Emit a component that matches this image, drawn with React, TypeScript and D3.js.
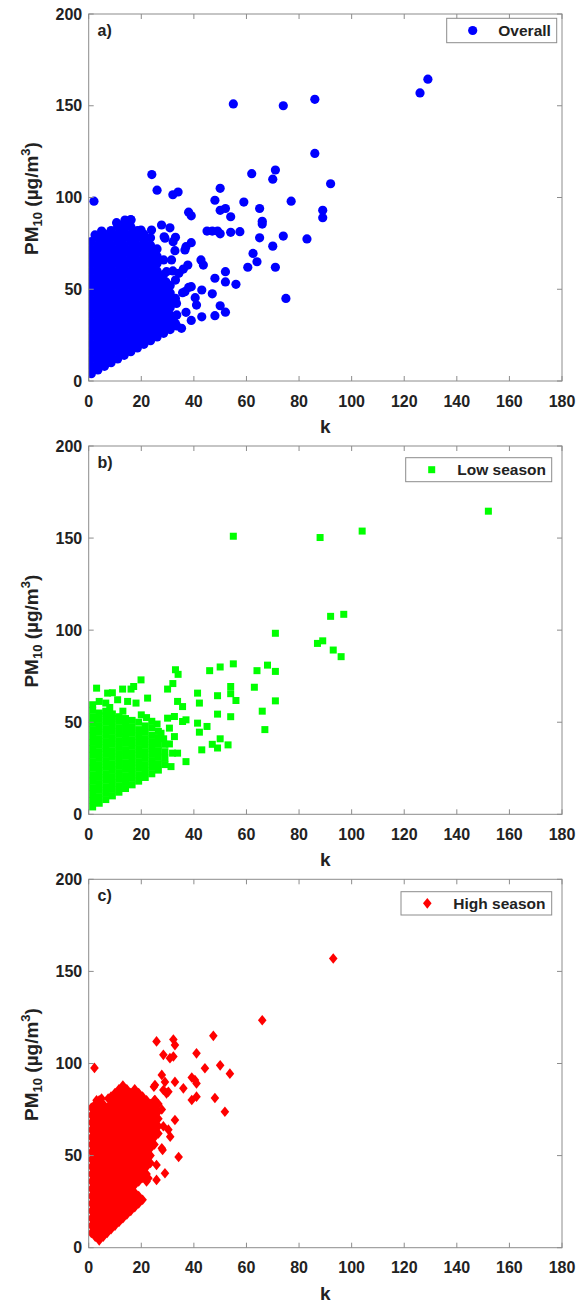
import React from 'react';
import * as d3 from 'd3';

// ---------- tick labels ----------
const kTicks = [0, 20, 40, 60, 80, 100, 120, 140, 160, 180];
const pmTicks = [0, 50, 100, 150, 200];
const panelLabels = ['a)', 'b)', 'c)'];
const legendLabels = ['Overall', 'Low season', 'High season'];

// ---------- a) Overall (dense core: k column -> PM values) ----------
const overallCore: [number, number[]][] = [
  [1, [4, 8, 12, 16, 20, 24, 28, 32, 36, 40, 44, 48, 52, 56, 60, 64, 68, 72, 76]],
  [3.5, [6, 10, 14, 18, 22, 26, 30, 34, 38, 42, 46, 50, 54, 58, 62, 66, 70, 74, 78]],
  [6, [8, 12, 16, 20, 24, 28, 32, 36, 40, 44, 48, 52, 56, 60, 64, 68, 72, 76, 80]],
  [8.5, [10, 14, 18, 22, 26, 30, 34, 38, 42, 46, 50, 54, 58, 62, 66, 70, 74, 78, 82]],
  [11, [12, 16, 20, 24, 28, 32, 36, 40, 44, 48, 52, 56, 60, 64, 68, 72, 76, 80, 84]],
  [13.5, [14, 18, 22, 26, 30, 34, 38, 42, 46, 50, 54, 58, 62, 66, 70, 74, 78, 82, 86]],
  [16, [16, 20, 24, 28, 32, 36, 40, 44, 48, 52, 56, 60, 64, 68, 72, 76, 80, 84, 88]],
  [18.5, [18, 22, 26, 30, 34, 38, 42, 46, 50, 54, 58, 62, 66, 70, 74, 78, 82]],
  [21, [20, 24, 28, 32, 36, 40, 44, 48, 52, 56, 60, 64, 68, 72, 76, 80]],
  [23.5, [22, 26, 30, 34, 38, 42, 46, 50, 54, 58, 62, 66, 70, 74, 78]],
  [26, [24, 28, 32, 36, 40, 44, 48, 52, 56, 60, 64, 68, 72]],
  [28.5, [26, 30, 34, 38, 42, 46, 50, 54, 58, 66]],
  [31, [28, 32, 36, 40, 44, 48, 52]],
  [33.5, [30, 36]],
];
const overallScatter: [number, number][] = [
  [2, 98], [24, 112.5], [26, 104], [32, 101.5], [34, 103], [55, 151], [74, 150], [38, 92], [39, 90],
  [48, 98.5], [50, 105], [50, 93], [52, 94], [54, 89.5], [59, 97.5], [62, 113], [65, 94], [66, 87],
  [66, 85.5], [70, 110], [71, 115], [77, 98], [71, 62], [70, 73.5], [74, 79], [75, 45], [65, 78],
  [62.5, 69.5], [64, 65], [60.5, 62], [54, 81], [57.5, 81.4], [45, 81.7], [47, 81.7], [49, 81.7],
  [50, 80.2], [52, 54], [56, 52.7], [48, 56], [52, 59.6], [47, 47.5], [50, 41], [52, 37.5], [48, 35.6],
  [43, 35], [39, 33], [37, 37.4], [43, 49.6], [40.5, 45.4], [41, 41.4], [38, 51], [39, 51.4], [36.6, 48.7],
  [42.7, 66], [43.6, 63.2], [39, 75.4], [37, 73.2], [37.7, 63.2], [35.3, 28.7], [129, 164.5], [126, 157],
  [86, 153.5], [86, 124], [92, 107.5], [89, 93], [89, 89], [83, 77.4],
  [10.6, 86.3], [13.8, 87.7], [16.1, 87.7], [2.4, 79.6], [4.9, 81.7], [19.9, 82.3], [23.9, 82.3],
  [27.7, 85], [28.7, 78.6], [30.9, 83.5], [32.1, 75.9], [32.8, 71], [31.5, 66], [32, 60], [29.6, 59.6],
  [29.4, 54], [33, 55], [34.3, 58.7], [36, 61], [35.7, 48.1], [33, 45], [33.4, 42.3], [32.5, 35],
  [33, 31.4], [27, 39.6], [36.6, 71.4], [29, 77.8], [33, 78.3],
];

// ---------- b) Low season ----------
const lowCore: [number, number[]][] = [
  [1.5, [4, 7.5, 11, 14.5, 18, 21.5, 25, 28.5, 32, 35.5, 39, 42.5, 46, 49.5, 53, 56.5, 59.5]],
  [4, [6, 9.5, 13, 16.5, 20, 23.5, 27, 30.5, 34, 37.5, 41, 44.5, 48, 51.5, 55]],
  [6.5, [8, 11.5, 15, 18.5, 22, 25.5, 29, 32.5, 36, 39.5, 43, 46.5, 50, 53.5, 56]],
  [9, [10, 13.5, 17, 20.5, 24, 27.5, 31, 34.5, 38, 41.5, 45, 48.5, 52, 54.5]],
  [11.5, [12, 15.5, 19, 22.5, 26, 29.5, 33, 36.5, 40, 43.5, 47, 50.5, 53]],
  [14, [14, 17.5, 21, 24.5, 28, 31.5, 35, 38.5, 42, 45.5, 49, 52]],
  [16.5, [16, 19.5, 23, 26.5, 30, 33.5, 37, 40.5, 44, 47.5, 51]],
  [19, [18, 21.5, 25, 28.5, 32, 35.5, 39, 42.5, 46, 50]],
  [21.5, [20, 23.5, 27, 30.5, 34, 37.5, 41, 44.5, 48]],
  [24, [22, 25.5, 29, 32.5, 36, 39.5, 43, 47]],
  [26.5, [24, 27.5, 31, 34.5, 38, 41.5, 45]],
  [29, [27, 30.5, 34, 38]],
];
const lowScatter: [number, number][] = [
  [3, 68.5], [7.2, 65.8], [9, 66], [12.9, 68], [16.1, 68], [17.1, 69.4], [19.9, 73], [4, 61.3], [6.5, 60.4],
  [11, 62.2], [14.8, 61.3], [18, 60.4], [22.4, 63.1], [30, 68], [32, 71], [33, 78.5], [34, 76], [33.8, 61.3],
  [35.7, 58.5], [30, 52.2], [32.6, 53.1], [35.7, 50.4], [37, 51.3], [30.7, 46.8], [32.6, 42.2], [30.7, 38.2],
  [31.9, 33.2], [33.8, 33.2], [31.3, 25.9], [37, 28.6], [41.4, 65.8], [42.1, 60.4], [41.4, 49.5], [42.1, 44.6],
  [45, 47.7], [43, 35], [47, 38], [49, 36], [50, 41], [53, 37.7], [46, 78], [50, 80], [55, 81.7], [49, 64.4],
  [49, 54.4], [54, 69.4], [54, 65.5], [56, 61.8], [54, 53], [55, 151], [71, 98.3], [68, 81], [71, 77.6],
  [71, 61.6], [64, 78], [63, 69], [66, 56], [67, 46], [152, 164.6], [104, 153.8], [88, 150.3], [97, 108.6],
  [92, 107.5], [87, 92.8], [89, 94.2], [93, 89.2], [96, 85.6],
  [8, 58], [13, 56], [20, 54], [24, 50.5], [26, 49], [22, 52.5], [27.5, 44], [28.5, 41],
];

// ---------- c) High season ----------
const highCore: [number, number[]][] = [
  [1, [8, 12, 16, 20, 24, 28, 32, 36, 40, 44, 48, 52, 56, 60, 64, 68, 72, 76]],
  [2.5, [6, 10, 14, 18, 22, 26, 30, 34, 38, 42, 46, 50, 54, 58, 62, 66, 70, 74, 78]],
  [4, [4, 8, 12, 16, 20, 24, 28, 32, 36, 40, 44, 48, 52, 56, 60, 64, 68, 72, 76, 80]],
  [5.5, [6, 10, 14, 18, 22, 26, 30, 34, 38, 42, 46, 50, 54, 58, 62, 66, 70, 74, 78]],
  [7, [8, 12, 16, 20, 24, 28, 32, 36, 40, 44, 48, 52, 56, 60, 64, 68, 72, 76]],
  [8.5, [10, 14, 18, 22, 26, 30, 34, 38, 42, 46, 50, 54, 58, 62, 66, 70, 74, 78, 82]],
  [10, [12, 16, 20, 24, 28, 32, 36, 40, 44, 48, 52, 56, 60, 64, 68, 72, 76, 80, 84]],
  [11.5, [14, 18, 22, 26, 30, 34, 38, 42, 46, 50, 54, 58, 62, 66, 70, 74, 78, 82, 86]],
  [13, [16, 20, 24, 28, 32, 36, 40, 44, 48, 52, 56, 60, 64, 68, 72, 76, 80, 84, 88]],
  [14.5, [18, 22, 26, 30, 34, 38, 42, 46, 50, 54, 58, 62, 66, 70, 74, 78, 82, 86]],
  [16, [20, 24, 28, 32, 36, 40, 44, 48, 52, 56, 60, 64, 68, 72, 76, 80, 84]],
  [17.5, [22, 26, 30, 34, 38, 42, 46, 50, 54, 58, 62, 66, 70, 74, 78, 82, 86]],
  [19, [24, 28, 36, 40, 44, 48, 52, 56, 60, 64, 68, 72, 76, 80, 84]],
  [20.5, [26, 38, 42, 46, 50, 54, 58, 62, 66, 70, 74, 78, 82]],
  [22, [36, 40, 44, 48, 52, 56, 60, 64, 68, 72, 76, 80]],
  [23.5, [46, 50, 54, 58, 62, 66, 70, 74, 78]],
  [25, [56, 60, 64, 68, 72, 76, 80]],
  [26.5, [62, 66, 70, 74, 78]],
];
const highScatter: [number, number][] = [
  [93, 157], [66, 123.5], [47.4, 115], [50, 99], [53.7, 94.5], [51.8, 73.8], [48, 81.3], [44.2, 97.4],
  [41, 105.5], [40.4, 91], [39.2, 92.4], [41, 89.2], [39.2, 80.2], [41, 82], [36, 86.5], [32.8, 90],
  [32.8, 69.3], [34.2, 49.2], [25.8, 112], [32.2, 113], [32.8, 110], [32.2, 103.8], [30.9, 102.9],
  [28.4, 104.7], [29, 90], [30.3, 84.7], [27.8, 75], [24.8, 87.4], [25.2, 79.8], [28.4, 65.9], [30.3, 64.1],
  [31, 60.3], [28.1, 53], [27.8, 54], [25.8, 44.9], [22.7, 37.7], [25.8, 36.8], [29, 40.4], [2.2, 97.6],
  [27.8, 93.8], [25.2, 88.3], [28.4, 85.6], [29.6, 83.8], [25.2, 80.2], [3, 80], [4.9, 81], [7.4, 81],
];

// ---------- layout ----------
const W = 579;
const H = 1305;
const LEFT = 88.7;
const RIGHT = 562;
const FONT = "'Liberation Sans', Arial, Helvetica, sans-serif";
const AXIS_COLOR = '#8c8c8c';
const TEXT_COLOR = '#222222';

type Shape = 'circle' | 'square' | 'diamond';

const panels = [
  {
    top: 14, bottom: 381, core: overallCore, scatter: overallScatter, color: '#0000FF', shape: 'circle' as Shape,
    legend: { x: 446.7, y: 18.3, w: 110, h: 24.4, mx: 472.7, tx: 498.3 },
  },
  {
    top: 446, bottom: 814.3, core: lowCore, scatter: lowScatter, color: '#00FF00', shape: 'square' as Shape,
    legend: { x: 405.7, y: 457.7, w: 146, h: 24, mx: 431.7, tx: 457.3 },
  },
  {
    top: 879.3, bottom: 1247.7, core: highCore, scatter: highScatter, color: '#FF0000', shape: 'diamond' as Shape,
    legend: { x: 401, y: 891.7, w: 150.7, h: 23.3, mx: 427.3, tx: 453.3 },
  },
];

function Marker({ shape, x, y, color }: { shape: Shape; x: number; y: number; color: string }) {
  if (shape === 'circle') return <circle cx={x} cy={y} r={4.6} fill={color} />;
  if (shape === 'square') return <rect x={x - 3.5} y={y - 3.5} width={7} height={7} fill={color} />;
  return <path d={`M${x},${y - 5.3}L${x + 4.3},${y}L${x},${y + 5.3}L${x - 4.3},${y}Z`} fill={color} />;
}

function Panel({ idx }: { idx: number }) {
  const p = panels[idx];
  const x = d3.scaleLinear().domain([0, 180]).range([LEFT, RIGHT]);
  const y = d3.scaleLinear().domain([0, 200]).range([p.bottom, p.top]);
  const pts: [number, number][] = [
    ...p.core.flatMap(([k, pms]) => pms.map((pm) => [k, pm] as [number, number])),
    ...p.scatter,
  ];
  const clipId = `clip-${idx}`;
  const cy = (p.top + p.bottom) / 2;
  const lcy = p.legend.y + p.legend.h / 2;
  return (
    <g>
      <defs>
        <clipPath id={clipId}>
          <rect x={LEFT} y={p.top} width={RIGHT - LEFT} height={p.bottom - p.top} />
        </clipPath>
      </defs>
      <g clipPath={`url(#${clipId})`}>
        {pts.map(([k, pm], i) => (
          <Marker key={i} shape={p.shape} x={x(k)} y={y(pm)} color={p.color} />
        ))}
      </g>
      {/* axes box and ticks */}
      <rect x={LEFT} y={p.top} width={RIGHT - LEFT} height={p.bottom - p.top} fill="none" stroke={AXIS_COLOR} strokeWidth={1} />
      {kTicks.map((t) => (
        <g key={`kt${t}`}>
          <line x1={x(t)} x2={x(t)} y1={p.bottom} y2={p.bottom - 5} stroke={AXIS_COLOR} />
          <line x1={x(t)} x2={x(t)} y1={p.top} y2={p.top + 5} stroke={AXIS_COLOR} />
          <text x={x(t)} y={p.bottom + 25.5} textAnchor="middle" fontFamily={FONT} fontWeight="bold" fontSize={16} fill={TEXT_COLOR}>
            {t}
          </text>
        </g>
      ))}
      {pmTicks.map((t) => (
        <g key={`pt${t}`}>
          <line x1={LEFT} x2={LEFT + 5} y1={y(t)} y2={y(t)} stroke={AXIS_COLOR} />
          <line x1={RIGHT} x2={RIGHT - 5} y1={y(t)} y2={y(t)} stroke={AXIS_COLOR} />
          <text x={LEFT - 6.5} y={y(t) + 5.7} textAnchor="end" fontFamily={FONT} fontWeight="bold" fontSize={16} fill={TEXT_COLOR}>
            {t}
          </text>
        </g>
      ))}
      {/* axis labels */}
      <text x={(LEFT + RIGHT) / 2} y={p.bottom + 52} textAnchor="middle" fontFamily={FONT} fontWeight="bold" fontSize={19} fill={TEXT_COLOR}>
        k
      </text>
      <text transform={`translate(37.5,${cy + 1}) rotate(-90)`} textAnchor="middle" fontFamily={FONT} fontWeight="bold" fontSize={19} fill={TEXT_COLOR}>
        <tspan>PM</tspan>
        <tspan fontSize={13} dy={4}>10</tspan>
        <tspan dy={-4}> (µg/m</tspan>
        <tspan fontSize={13} dy={-7.5}>3</tspan>
        <tspan dy={7.5}>)</tspan>
      </text>
      {/* panel label */}
      <text x={97.5} y={p.top + 22} fontFamily={FONT} fontWeight="bold" fontSize={16} fill={TEXT_COLOR}>
        {panelLabels[idx]}
      </text>
      {/* legend */}
      <rect x={p.legend.x} y={p.legend.y} width={p.legend.w} height={p.legend.h} fill="#ffffff" stroke={AXIS_COLOR} strokeWidth={1} />
      <Marker shape={p.shape} x={p.legend.mx} y={lcy} color={p.color} />
      <text x={p.legend.tx} y={lcy + 5.5} fontFamily={FONT} fontWeight="bold" fontSize={15.5} fill={TEXT_COLOR}>
        {legendLabels[idx]}
      </text>
    </g>
  );
}

export default function App() {
  return (
    <svg
      width={W}
      height={H}
      viewBox={`0 0 ${W} ${H}`}
      style={{ position: 'absolute', left: 0, top: 0, display: 'block', background: '#ffffff' }}
    >
      <rect x={0} y={0} width={W} height={H} fill="#ffffff" />
      {panels.map((_, i) => (
        <Panel key={i} idx={i} />
      ))}
    </svg>
  );
}
